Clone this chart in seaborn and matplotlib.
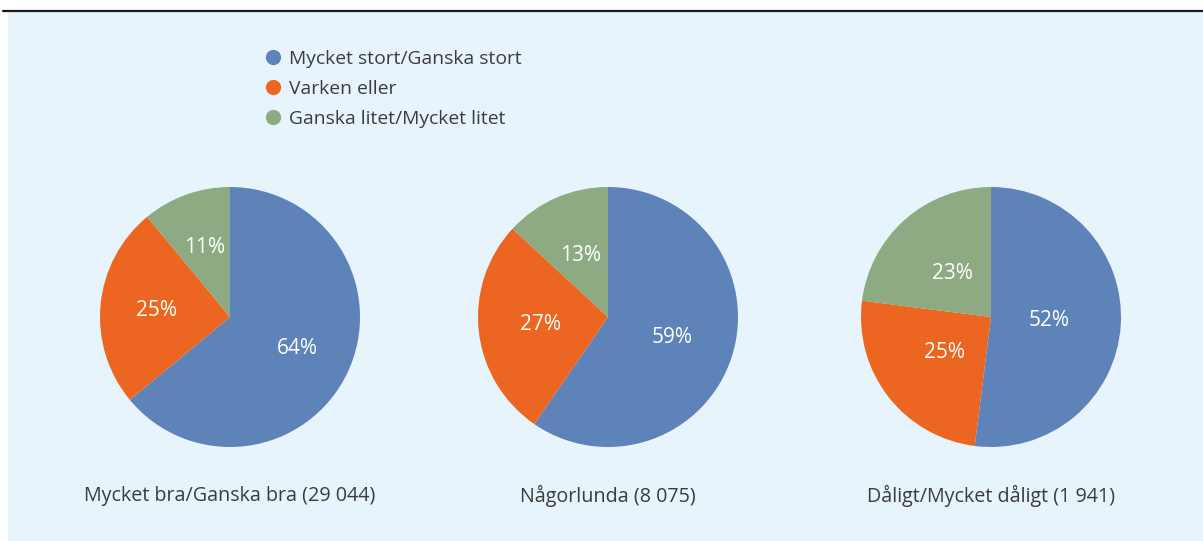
import matplotlib
matplotlib.use("Agg")
import matplotlib.pyplot as plt
import seaborn as sns
from matplotlib.patches import Rectangle
from matplotlib.lines import Line2D

# DATA
categories = ["Mycket stort/Ganska stort", "Varken eller", "Ganska litet/Mycket litet"]
groups = ["Mycket bra/Ganska bra (29 044)", "Någorlunda (8 075)", "Dåligt/Mycket dåligt (1 941)"]
share_bra = [64, 25, 11]
share_nagorlunda = [59, 27, 13]
share_daligt = [52, 25, 23]

colors = sns.color_palette(["#5E83B9", "#EC6621", "#8DAA82"])

sns.set_style("white")
plt.rcParams["font.family"] = ["Open Sans", "DejaVu Sans"]
text_color = "#3c3c3c"

W, H = 1203, 541
fig = plt.figure(figsize=(W / 100, H / 100), dpi=100)
fig.patch.set_facecolor("white")

# light blue panel and top rule
fig.patches.append(Rectangle((8 / W, 0), 1 - 8 / W, (H - 12) / H,
                             transform=fig.transFigure, facecolor="#E8F4FC",
                             edgecolor="none", zorder=-1))
fig.lines.append(Line2D([3 / W, 1], [1 - 11 / H, 1 - 11 / H],
                        transform=fig.transFigure, color="#1a1a1a", lw=1.6))

centers_x = [230, 608, 991]
center_y = 317
radius = 130
pct_dist = [0.57, 0.52, 0.45]

for cx, vals, grp, pd_ in zip(centers_x, [share_bra, share_nagorlunda, share_daligt], groups, pct_dist):
    ax = fig.add_axes([(cx - radius) / W, (H - center_y - radius) / H, 2 * radius / W, 2 * radius / H])
    ax.pie(vals, colors=colors, startangle=90, counterclock=False,
           autopct=lambda p, v=vals: f"{round(p * sum(v) / 100):d}%",
           pctdistance=pd_, wedgeprops=dict(linewidth=0),
           textprops=dict(color="white", fontsize=15))
    ax.set_xlim(-1, 1)
    ax.set_ylim(-1, 1)
    ax.set_aspect("equal")
    ax.axis("off")
    fig.text(cx / W, 1 - 496 / H, grp, ha="center", va="center",
             fontsize=14.2, color=text_color)

handles = [Line2D([], [], marker="o", linestyle="none", markersize=11,
                  markerfacecolor=c, markeredgecolor="none") for c in colors]
fig.legend(handles, categories, loc="upper left", bbox_to_anchor=(254 / W, 1 - 42 / H),
           frameon=False, fontsize=13.9, labelcolor=text_color,
           handletextpad=0.2, labelspacing=0.62, borderaxespad=0, handlelength=1.2)

fig.savefig("out.png", dpi=100)
